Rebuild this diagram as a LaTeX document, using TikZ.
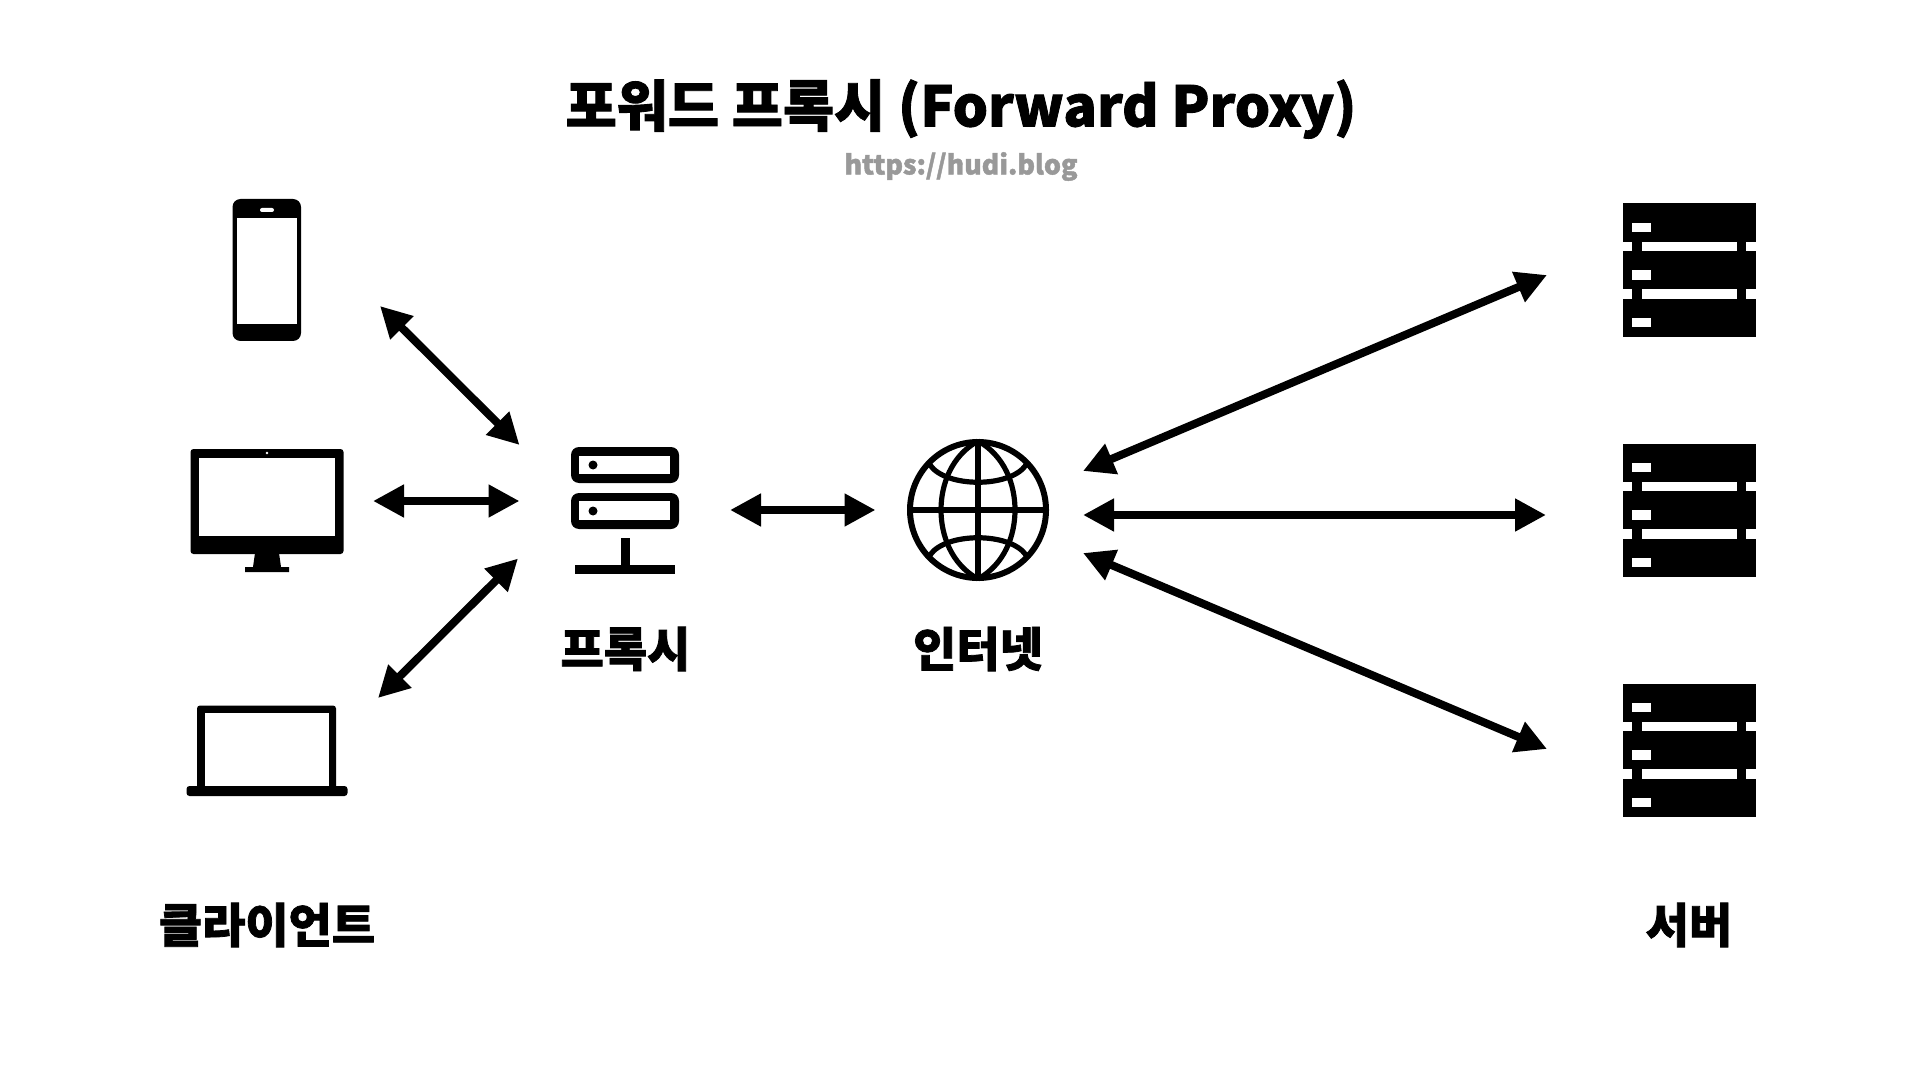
\documentclass[tikz,border=0pt]{standalone}
\usepackage{fontspec}
\usetikzlibrary{arrows.meta}
\newfontfamily\krblack[FakeBold=1.6]{Noto Sans CJK KR Black}
\tikzset{
  x=0.5pt,y=-0.5pt,
  dbl/.style={line width=4pt,{Triangle[length=15.5pt,width=15.5pt]}-{Triangle[length=15.5pt,width=15.5pt]}},
  title/.style={font=\krblack\fontsize{27.8pt}{30pt}\selectfont,inner sep=0pt},
  label/.style={font=\krblack\fontsize{23.5pt}{26pt}\selectfont,inner sep=0pt},
  url/.style={font=\krblack\fontsize{13.4pt}{16pt}\selectfont,text=black!40,inner sep=0pt},
  ink/.style={fill=black,draw=none},
  hole/.style={fill=white,draw=none},
  wire/.style={draw=black,line width=2.6pt},
}
\newcommand{\serverglyph}[1]{%
  \begin{scope}[shift={(0,#1)}]
    \fill[ink] (1622.5,203.5) rectangle (1756,337);
    \fill[hole] (1622,242) rectangle (1632,251);
    \fill[hole] (1642,242) rectangle (1737,251);
    \fill[hole] (1746,242) rectangle (1756,251);
    \fill[hole] (1622,289) rectangle (1632,299);
    \fill[hole] (1642,289) rectangle (1737,299);
    \fill[hole] (1746,289) rectangle (1756,299);
    \fill[hole] (1632,223) rectangle (1651,232);
    \fill[hole] (1632,270) rectangle (1651,280);
    \fill[hole] (1632,318) rectangle (1651,327);
  \end{scope}}
\begin{document}
\begin{tikzpicture}
\useasboundingbox[fill=white] (0,0) rectangle (1920,1080);
% texts
\node[title] (t) at (961,109) {포워드 프록시 (Forward Proxy)};
\node[url] (u) at (961,166.5) {https://hudi.blog};
\node[label] (lp) at (625.5,649) {프록시};
\node[label] (li) at (978,649) {인터넷};
\node[label] (lc) at (267,925) {클라이언트};
\node[label] (ls) at (1689,925) {서버};
% phone
\fill[ink,rounded corners=4pt] (232.5,199) rectangle (301,341);
\fill[hole] (237,218) rectangle (297,324);
\fill[hole,rounded corners=1pt] (260,208) rectangle (274,212);
% monitor
\fill[ink,rounded corners=1.5pt] (190.5,449) rectangle (343.5,554);
\fill[hole] (199,458) rectangle (335,536);
\fill[hole] (267,453) circle (1.3);
\fill[ink] (255,553) -- (279,553) -- (281,567) -- (289,567) -- (289,572) -- (245,572) -- (245,567) -- (253,567) -- cycle;
% laptop
\fill[ink,rounded corners=1.5pt] (197,705.5) -- (336,705.5) -- (336,790) -- (197,790) -- cycle;
\fill[hole] (205,713) rectangle (329,786);
\fill[ink,rounded corners=1.5pt] (186.5,786) rectangle (347.5,796);
% proxy icon
\fill[ink,rounded corners=4pt] (571,447) rectangle (679,483);
\fill[hole] (579,456) rectangle (670,474);
\fill[ink,rounded corners=4pt] (571,493) rectangle (679,529);
\fill[hole] (579,501) rectangle (670,520);
\fill[ink] (593,465) circle (4.5);
\fill[ink] (593,511) circle (4.5);
\fill[ink] (621,538) rectangle (630,566);
\fill[ink] (575,565) rectangle (675,574);
% globe
\draw[draw=black,line width=3pt] (978,510) circle (68);
\draw[wire] (978,441) -- (978,579);
\draw[wire] (909,510) -- (1047,510);
\draw[wire] (978,441) .. controls (951,456) and (941,485) .. (941,510) .. controls (941,535) and (951,564) .. (978,579);
\draw[wire] (978,441) .. controls (1005,456) and (1015,485) .. (1015,510) .. controls (1015,535) and (1005,564) .. (978,579);
\draw[wire] (930,465) .. controls (946,488) and (1010,488) .. (1026,465);
\draw[wire] (930,555) .. controls (946,532) and (1010,532) .. (1026,555);
% servers
\serverglyph{0}
\serverglyph{240}
\serverglyph{480}
% arrow ends
\coordinate (a1) at (380,306); \coordinate (b1) at (519.5,445);
\coordinate (a2) at (373,501); \coordinate (b2) at (519.5,501);
\coordinate (a3) at (378,698); \coordinate (b3) at (518,558.5);
\coordinate (a4) at (730,510); \coordinate (b4) at (875.5,510);
\coordinate (a5) at (1083,471); \coordinate (b5) at (1547,275);
\coordinate (a6) at (1083,515); \coordinate (b6) at (1546,515);
\coordinate (a7) at (1083,553); \coordinate (b7) at (1547,749);
\foreach \i in {1,...,7} \draw[dbl] (a\i) -- (b\i);
\end{tikzpicture}
\end{document}
